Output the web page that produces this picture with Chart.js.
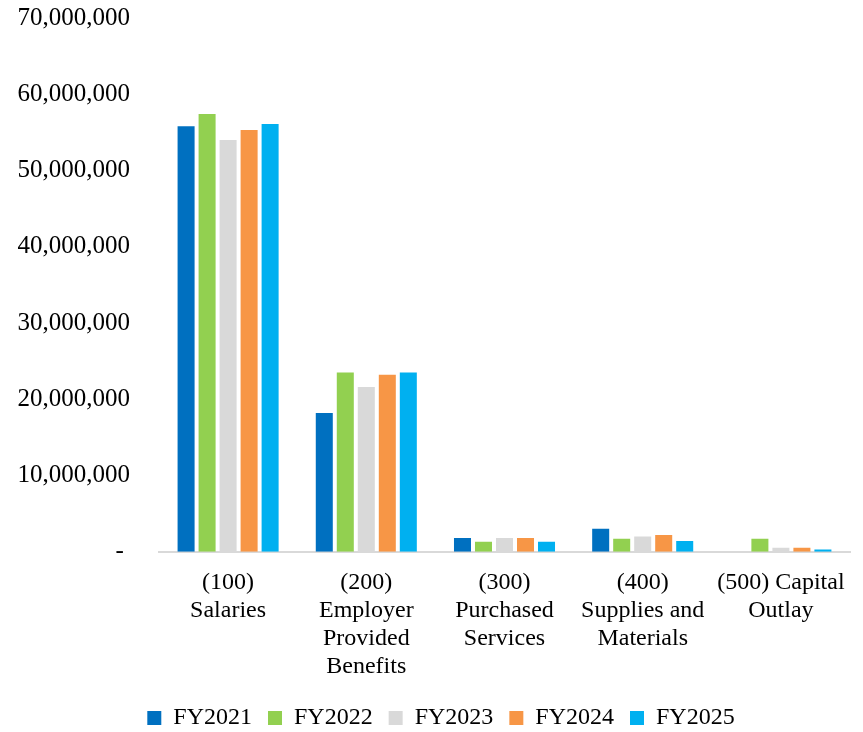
<!DOCTYPE html>
<html>
<head>
<meta charset="utf-8">
<script src="https://cdn.jsdelivr.net/npm/chart.js@4"></script>
<style>
  html, body { margin: 0; padding: 0; background: #fff; }
  #wrap { width: 863px; height: 732px; }
</style>
</head>
<body>
<div id="wrap"><canvas id="budgetChart"></canvas></div>
<script>
// categories (multi-line labels like the original)
const categories = [
    ['(100)', 'Salaries'],
    ['(200)', 'Employer', 'Provided', 'Benefits'],
    ['(300)', 'Purchased', 'Services'],
    ['(400)', 'Supplies and', 'Materials'],
    ['(500) Capital', 'Outlay']
];

const fy2021 = [55800000, 18200000, 1800000, 3000000, 0];
const fy2022 = [57400000, 23500000, 1300000, 1700000, 1700000];
const fy2023 = [54000000, 21600000, 1800000, 2000000, 500000];
const fy2024 = [55300000, 23200000, 1800000, 2200000, 500000];
const fy2025 = [56100000, 23500000, 1300000, 1400000, 300000];

const seriesNames = ['FY2021', 'FY2022', 'FY2023', 'FY2024', 'FY2025'];
const seriesColors = ['#0070C0', '#92D050', '#D9D9D9', '#F79646', '#00B0F0'];

const yTicks = [0, 10000000, 20000000, 30000000, 40000000, 50000000, 60000000, 70000000];

const fontFamily = '"Liberation Serif", "Times New Roman", serif';

const allSeries = [fy2021, fy2022, fy2023, fy2024, fy2025];
const datasets = allSeries.map((vals, i) => ({
    label: seriesNames[i],
    data: vals,
    backgroundColor: seriesColors[i],
    borderWidth: 0,
    categoryPercentage: 0.76,
    barPercentage: 0.81
}));

// nudge the legend a bit to the right, like the original
const legendShift = {
    id: 'legendShift',
    beforeDraw(chart) {
        if (chart.legend) chart.legend.left = 32;
    }
};

const ctx = document.getElementById('budgetChart').getContext('2d');
new Chart(ctx, {
    type: 'bar',
    data: { labels: categories, datasets: datasets },
    plugins: [legendShift],
    options: {
        responsive: true,
        maintainAspectRatio: false,
        animation: false,
        layout: { padding: { top: 18, right: 13, left: 0, bottom: -8 } },
        plugins: {
            tooltip: { enabled: false },
            legend: {
                position: 'bottom',
                labels: {
                    color: '#000',
                    font: { family: fontFamily, size: 24 },
                    boxWidth: 14,
                    boxHeight: 14,
                    padding: 16
                }
            }
        },
        scales: {
            x: {
                grid: { display: false },
                border: { display: true, color: '#D9D9D9', width: 2 },
                ticks: {
                    color: '#000',
                    font: { family: fontFamily, size: 24, lineHeight: 1.17 },
                    maxRotation: 0,
                    autoSkip: false,
                    padding: 9
                }
            },
            y: {
                min: 0,
                max: 70000000,
                afterBuildTicks: (scale) => {
                    scale.ticks = yTicks.map(v => ({ value: v }));
                },
                afterFit: (scale) => {
                    scale.width = 159;
                    scale.paddingTop = 0;
                },
                grid: { display: false },
                border: { display: false },
                ticks: {
                    color: '#000',
                    padding: 21,
                    font: { family: fontFamily, size: 25 },
                    callback: (v) => v === 0 ? '- ' : v.toLocaleString('en-US')
                }
            }
        }
    }
});
</script>
</body>
</html>
